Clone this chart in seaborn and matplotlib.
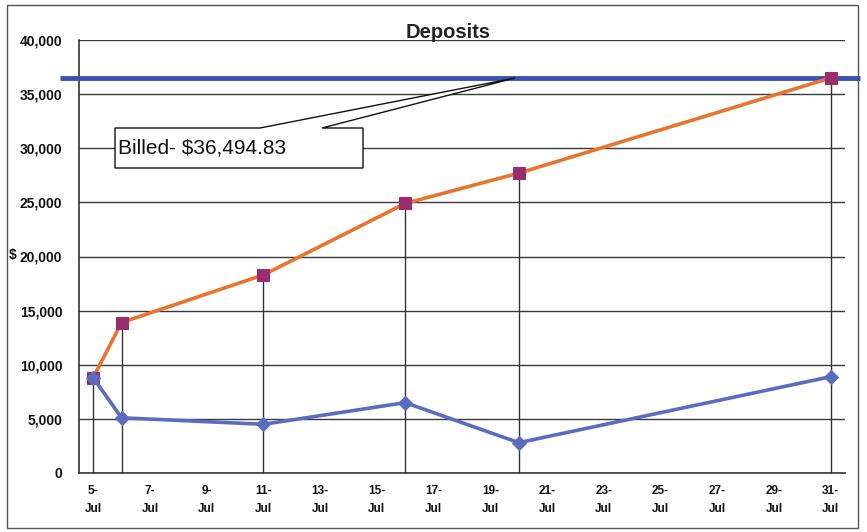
import matplotlib
matplotlib.use("Agg")
import matplotlib.pyplot as plt
import matplotlib.transforms as mtransforms
from matplotlib.patches import Polygon, Rectangle
import seaborn as sns
import pandas as pd

# ---- data ----
days = [5, 6, 11, 16, 20, 31]                     # day of July
daily = [8800, 5100, 4500, 6500, 2800, 8900]      # daily deposits
cumulative = [8800, 13900, 18300, 24900, 27700, 36500]  # running total
billed = 36494.83
billed_label = "Billed- $36,494.83"
title = "Deposits"
y_ticks = [0, 5000, 10000, 15000, 20000, 25000, 30000, 35000, 40000]
x_label_days = list(range(5, 32, 2))
x_tick_labels = [f"{d}-\nJul" for d in x_label_days]

df = pd.DataFrame({"day": days, "daily": daily, "cumulative": cumulative})

sns.set_style("white")
plt.rcParams["font.family"] = ["Liberation Sans", "DejaVu Sans"]

W, H = 867, 532
fig = plt.figure(figsize=(W / 100, H / 100), dpi=100)
L, R, T, B = 79, 845, 40, 473
ax = fig.add_axes([L / W, (H - B) / H, (R - L) / W, (B - T) / H])

orange = "#E8742E"
sq = "#9B2C6E"
blue = "#5B6CC0"

# drop lines from the cumulative points
ax.vlines(df["day"], 0, df["cumulative"], colors="#333333", lw=1.0, zorder=2)

sns.lineplot(data=df, x="day", y="cumulative", ax=ax, color=orange, lw=2.6,
             marker="s", markersize=9, markerfacecolor=sq, markeredgecolor=sq,
             zorder=4)
sns.lineplot(data=df, x="day", y="daily", ax=ax, color=blue, lw=2.6,
             marker="D", markersize=7, markerfacecolor=blue, markeredgecolor=blue,
             zorder=4)

# billed horizontal line, extending slightly past the axes
trans = mtransforms.blended_transform_factory(ax.transAxes, ax.transData)
ax.plot([-0.025, 1.02], [billed, billed], transform=trans, clip_on=False,
        color="#3A52B4", lw=3.5, zorder=3, solid_capstyle="butt")

ax.set_xlim(4.5, 31.5)
ax.set_ylim(0, 40000)
ax.set_yticks(y_ticks)
ax.set_yticklabels([f"{v:,}" for v in y_ticks])
ax.set_xticks(x_label_days)
ax.set_xticklabels(x_tick_labels, linespacing=1.6)
ax.set_xticks([d + 0.5 for d in range(4, 32)][::2], minor=True)
ax.tick_params(axis="x", which="major", length=0, pad=9, labelsize=8.5,
               colors="#111111")
ax.tick_params(axis="x", which="minor", length=4, direction="out",
               color="#333333", width=1)
ax.tick_params(axis="y", which="major", length=4, direction="out",
               color="#333333", width=1, labelsize=10, pad=8, colors="#111111")
for lab in ax.get_xticklabels() + ax.get_yticklabels():
    lab.set_fontweight("bold")
ax.set_xlabel("")
ax.set_ylabel("")
ax.yaxis.grid(True, color="#3a3a3a", lw=1.0)
ax.xaxis.grid(False)
for s in ["top", "right"]:
    ax.spines[s].set_visible(False)
for s in ["left", "bottom"]:
    ax.spines[s].set_color("#333333")
    ax.spines[s].set_linewidth(1.2)

# callout box with pointer to the billed line
def ax_pt(px, py):
    return ((px - L) / (R - L), (B - py) / (B - T))

poly_px = [(115, 128), (260, 128), (515, 78), (322, 128), (363, 128),
           (363, 168), (115, 168)]
callout = Polygon([ax_pt(*p) for p in poly_px], closed=True,
                  transform=ax.transAxes, facecolor="white",
                  edgecolor="#111111", lw=1.0, clip_on=False, zorder=6)
ax.add_patch(callout)
tx, ty = ax_pt(118, 148)
ax.text(tx, ty, billed_label, transform=ax.transAxes, ha="left", va="center",
        fontsize=15, color="#111111", zorder=7)

# title and $ label
fig.text(448 / W, 1 - 32 / H, title, ha="center", va="center",
         fontsize=14.5, fontweight="bold", color="#222222")
fig.text(13 / W, 1 - 255 / H, "$", ha="center", va="center",
         fontsize=10, fontweight="bold", color="#111111")

# outer chart border
fig.patches.append(Rectangle((7 / W, 1 - 528 / H), (858 - 7) / W, (528 - 5) / H,
                             transform=fig.transFigure, fill=False,
                             edgecolor="#555555", lw=1.0))

fig.savefig("out.png", dpi=100)
